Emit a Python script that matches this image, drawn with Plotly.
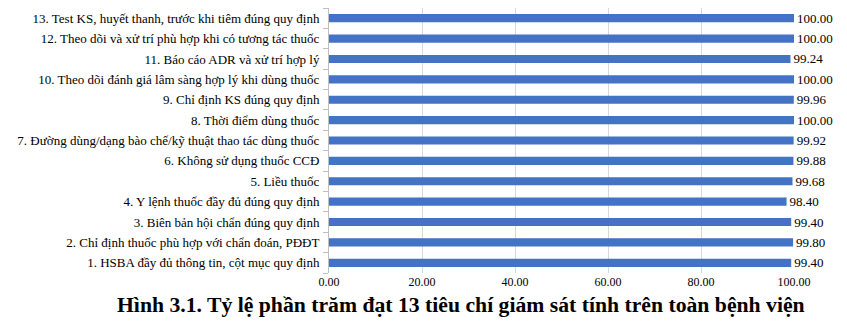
import plotly.graph_objects as go

categories = [
    "1. HSBA đầy đủ thông tin, cột mục quy định",
    "2. Chỉ định thuốc phù hợp với chẩn đoán, PĐĐT",
    "3. Biên bản hội chẩn đúng quy định",
    "4. Y lệnh thuốc đầy đủ đúng quy định",
    "5. Liều thuốc",
    "6. Không sử dụng thuốc CCĐ",
    "7. Đường dùng/dạng bào chế/kỹ thuật thao tác dùng thuốc",
    "8. Thời điểm dùng thuốc",
    "9. Chỉ định KS đúng quy định",
    "10. Theo dõi đánh giá lâm sàng hợp lý khi dùng thuốc",
    "11. Báo cáo ADR và xử trí hợp lý",
    "12. Theo dõi và xử trí phù hợp khi có tương tác thuốc",
    "13. Test KS, huyết thanh, trước khi tiêm đúng quy định",
]
values = [99.40, 99.80, 99.40, 98.40, 99.68, 99.88, 99.92, 100.00, 99.96, 100.00, 99.24, 100.00, 100.00]
x_ticks = [0, 20, 40, 60, 80, 100]
title = "Hình 3.1. Tỷ lệ phần trăm đạt 13 tiêu chí giám sát tính trên toàn bệnh viện"

FONT = "Liberation Serif"

fig = go.Figure(
    go.Bar(
        x=values,
        y=categories,
        orientation="h",
        marker=dict(color="#4472C4", line=dict(width=0)),
        text=[f"{v:.2f}" for v in values],
        textposition="outside",
        constraintext="none",
        textfont=dict(family=FONT, size=13, color="#000000"),
        cliponaxis=False,
    )
)

plot_l, plot_r, plot_t, plot_b = 329, 53, 8, 52
plot_w = 847 - plot_l - plot_r
plot_h = 325 - plot_t - plot_b

fig.update_layout(
    width=847,
    height=325,
    margin=dict(l=plot_l, r=plot_r, t=plot_t, b=plot_b),
    paper_bgcolor="white",
    plot_bgcolor="white",
    bargap=0.6,
    showlegend=False,
    font=dict(family=FONT, color="#000000"),
    xaxis=dict(
        range=[0, 100],
        tickvals=x_ticks,
        ticktext=[f"{t:.2f}" for t in x_ticks],
        tickfont=dict(family=FONT, size=12, color="#000000"),
        showgrid=True,
        gridcolor="#D9D9D9",
        gridwidth=1,
        zeroline=False,
        showline=False,
        ticks="",
        fixedrange=True,
    ),
    yaxis=dict(
        categoryorder="array",
        categoryarray=categories,
        tickfont=dict(family=FONT, size=13, color="#000000"),
        showline=True,
        linecolor="#BFBFBF",
        linewidth=1,
        ticks="outside",
        tickson="boundaries",
        ticklen=5,
        tickcolor="#BFBFBF",
        showgrid=False,
        ticklabelstandoff=6,
    ),
    annotations=[
        dict(
            text=f"<b>{title}</b>",
            x=(461 - plot_l) / plot_w,
            y=(325 - plot_b - 305) / plot_h,
            xref="paper",
            yref="paper",
            xanchor="center",
            yanchor="middle",
            showarrow=False,
            font=dict(family=FONT, size=21.7, color="#000000"),
        )
    ],
)

fig.write_html("out.html")
